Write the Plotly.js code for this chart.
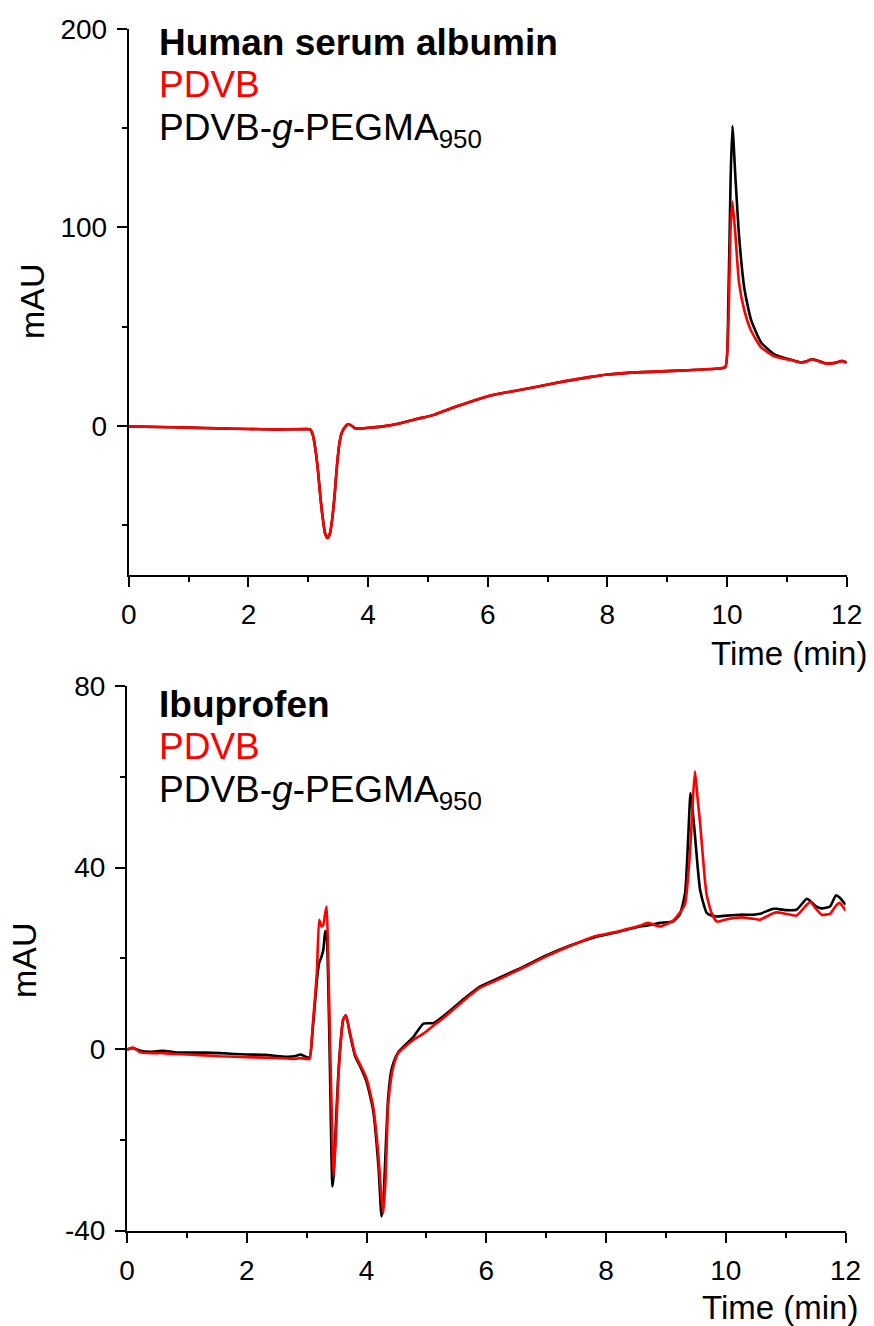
<!DOCTYPE html>
<html>
<head>
<meta charset="utf-8">
<script src="https://cdn.plot.ly/plotly-3.0.1.min.js"></script>
<style>
  html, body { margin: 0; padding: 0; background: #fff; }
  #chart { width: 874px; height: 1326px; }
</style>
</head>
<body>
<div id="chart"></div>
<script>
// Human serum albumin chromatogram (time in min, absorbance in mAU)
const hsaTime = [0, 0.5, 1, 1.5, 2, 2.5, 3, 3.03, 3.08, 3.12, 3.16, 3.2, 3.24, 3.28, 3.32, 3.36, 3.4, 3.44, 3.48, 3.52, 3.56, 3.61, 3.66, 3.71, 3.78, 3.9, 4.0, 4.25, 4.5, 4.81, 5.1, 5.37, 5.6, 5.8, 6.05, 6.4, 6.8, 7.3, 7.7, 8.0, 8.4, 8.8, 9.2, 9.5, 9.8, 9.97, 10.02, 10.06, 10.09, 10.14, 10.2, 10.29, 10.4, 10.57, 10.79, 11.08, 11.24, 11.33, 11.42, 11.52, 11.64, 11.8, 11.87, 11.92, 12.0];
const hsaPegma = [-0.3, -0.6, -0.9, -1.3, -1.6, -1.8, -1.7, -1.8, -5, -12, -22, -35, -46, -54, -56.5, -54.5, -47, -35, -20, -9, -3.5, -0.8, 0.8, 0.3, -1.2, -1.3, -1.0, -0.3, 1.0, 3.4, 5.5, 8.6, 11, 13, 15.3, 17.3, 19.5, 22.5, 24.5, 25.8, 26.8, 27.3, 27.8, 28.2, 28.7, 29.5, 60, 125, 151, 125, 96, 69, 53.5, 42, 36, 33.2, 32, 32.5, 33.5, 32.8, 31.5, 31.7, 32.3, 32.7, 31.8];
const hsaPdvb = [-0.3, -0.6, -0.9, -1.3, -1.6, -1.8, -1.7, -1.8, -5, -12, -22, -35, -46, -54, -56.5, -54.5, -47, -35, -20, -9, -3.5, -0.8, 0.8, 0.3, -1.2, -1.3, -1.0, -0.3, 1.0, 3.4, 5.5, 8.6, 11, 13, 15.3, 17.3, 19.5, 22.5, 24.5, 25.8, 26.8, 27.3, 27.8, 28.2, 28.7, 29.5, 50, 100, 113, 96, 72, 58, 48, 39.5, 35, 33, 31.8, 32.4, 33.4, 32.6, 31.4, 31.6, 32.2, 32.6, 31.7];

// Ibuprofen chromatogram
const ibuTime = [0, 0.1, 0.22, 0.4, 0.6, 0.8, 1.0, 1.3, 1.55, 1.8, 2.0, 2.3, 2.67, 2.8, 2.9, 3.0, 3.05, 3.1, 3.17, 3.21, 3.25, 3.28, 3.31, 3.335, 3.36, 3.39, 3.43, 3.45, 3.49, 3.53, 3.57, 3.61, 3.657, 3.72, 3.81, 3.9, 4.0, 4.11, 4.2, 4.25, 4.28, 4.32, 4.36, 4.41, 4.45, 4.53, 4.78, 4.95, 5.12, 5.28, 5.67, 5.9, 6.2, 6.6, 7.0, 7.4, 7.8, 8.2, 8.57, 8.7, 8.9, 9.12, 9.23, 9.32, 9.37, 9.41, 9.45, 9.485, 9.53, 9.57, 9.65, 9.68, 9.76, 9.85, 10.02, 10.24, 10.46, 10.57, 10.79, 10.85, 11.0, 11.18, 11.35, 11.41, 11.5, 11.6, 11.74, 11.84, 11.9, 12.0];
const ibuPegma = [-0.1, 0.2, -0.4, -0.6, -0.4, -0.7, -0.8, -0.8, -0.9, -1.1, -1.2, -1.3, -1.7, -1.6, -1.2, -1.8, -1.9, 4, 15, 19, 20.4, 22, 26, 25, 15, -5, -30.3, -28, -16, -5.3, 2, 6.5, 7.4, 3.5, -1.6, -4, -7.2, -13.5, -26, -36.9, -34, -22, -11, -5, -3, -0.7, 2.6, 5.6, 5.7, 7.2, 11.5, 13.8, 15.6, 18, 20.6, 22.8, 24.6, 25.8, 27.0, 27.2, 27.8, 28.1, 29.6, 34.4, 46.1, 56.4, 52, 47, 40, 35.1, 31, 30, 29.4, 29.2, 29.4, 29.6, 29.6, 29.8, 30.9, 30.9, 30.6, 30.7, 33.1, 32.6, 31.5, 31.0, 31.4, 33.9, 33.4, 31.8];
const ibuPdvb = [-0.1, 0.3, -0.7, -0.9, -0.9, -1.1, -1.2, -1.4, -1.6, -1.7, -1.8, -1.9, -2.1, -2.2, -2.0, -2.2, -2.2, 5, 16.7, 28.5, 27, 27.5, 30, 31.4, 20, 2, -20, -28.1, -19, -6, 1.5, 6.5, 7.4, 3.8, -1.2, -3.6, -6.5, -12.6, -23.7, -33, -36.2, -28, -12.6, -6.5, -3.8, -0.9, 2.0, 3.4, 5.2, 6.8, 11.2, 13.5, 15.3, 17.8, 20.4, 22.7, 24.8, 25.9, 27.2, 27.8, 27.0, 28.3, 30, 32, 38, 45, 55, 61.2, 55, 49.8, 37.3, 34, 30, 28.1, 28.6, 29, 28.7, 28.5, 29.9, 30.1, 29.8, 29.4, 31.8, 32.4, 31, 29.6, 29.8, 31.6, 32.2, 30.5];

// Tick values and their printed labels (plain hyphen for negatives)
const timeTicks = [0, 2, 4, 6, 8, 10, 12];
const timeTickText = ['0', '2', '4', '6', '8', '10', '12'];
const hsaTicks = [0, 100, 200];
const hsaTickText = ['0', '100', '200'];
const ibuTicks = [-40, 0, 40, 80];
const ibuTickText = ['-40', '0', '40', '80'];

const panelTitles = ['Human serum albumin', 'Ibuprofen'];
const seriesNames = ['PDVB', 'PDVB-<i>g</i>-PEGMA<sub>950</sub>'];
const xTitle = 'Time (min)';
const yTitle = 'mAU';

const W = 874, H = 1326;
const FONT = 'Liberation Sans, Arial, Helvetica, sans-serif';
const px = v => v / W;
const py = v => 1 - v / H;

function line(x, y, color, xa, ya, name) {
  return {
    x: x, y: y, type: 'scatter', mode: 'lines', name: name,
    xaxis: xa, yaxis: ya, hoverinfo: 'skip',
    line: { color: color, width: 2.6, shape: 'spline', smoothing: 0.5 }
  };
}

const traces = [
  line(hsaTime, hsaPegma, '#000000', 'x', 'y', 'PDVB-g-PEGMA950'),
  line(hsaTime, hsaPdvb, '#ff0000', 'x', 'y', 'PDVB'),
  line(ibuTime, ibuPegma, '#000000', 'x2', 'y2', 'PDVB-g-PEGMA950'),
  line(ibuTime, ibuPdvb, '#ff0000', 'x2', 'y2', 'PDVB')
];

function xAxis(domain, anchor) {
  return {
    domain: domain, anchor: anchor, range: [0, 12],
    tickmode: 'array', tickvals: timeTicks, ticktext: timeTickText,
    ticks: 'outside', ticklen: 10, tickwidth: 2, tickcolor: '#000',
    showline: true, linecolor: '#000', linewidth: 2,
    showgrid: false, zeroline: false, fixedrange: true,
    tickfont: { family: FONT, size: 28, color: '#000' },
    ticklabelstandoff: 4,
    minor: { tick0: 0, dtick: 1, ticks: 'outside', ticklen: 5, tickwidth: 2, tickcolor: '#000', showgrid: false }
  };
}
function yAxis(domain, anchor, range, vals, text, minorDtick) {
  return {
    domain: domain, anchor: anchor, range: range,
    tickmode: 'array', tickvals: vals, ticktext: text,
    ticks: 'outside', ticklen: 10, tickwidth: 2, tickcolor: '#000',
    showline: true, linecolor: '#000', linewidth: 2,
    showgrid: false, zeroline: false, fixedrange: true,
    tickfont: { family: FONT, size: 28, color: '#000' },
    ticklabelstandoff: 4,
    minor: { tick0: 0, dtick: minorDtick, ticks: 'outside', ticklen: 5, tickwidth: 2, tickcolor: '#000', showgrid: false }
  };
}

function label(text, x, y, opts) {
  return Object.assign({
    text: text, xref: 'paper', yref: 'paper', x: x, y: y,
    showarrow: false, xanchor: 'left', yanchor: 'middle',
    font: { family: FONT, size: 37, color: '#000' }
  }, opts || {});
}

const annotations = [
  label('<b>' + panelTitles[0] + '</b>', px(157), py(42)),
  label(seriesNames[0], px(157), py(84), { font: { family: FONT, size: 37, color: '#ff0000' } }),
  label(seriesNames[1], px(157), py(130)),
  label('<b>' + panelTitles[1] + '</b>', px(157), py(704)),
  label(seriesNames[0], px(157), py(746), { font: { family: FONT, size: 37, color: '#ff0000' } }),
  label(seriesNames[1], px(157), py(792)),
  label(xTitle, px(869), py(653), { xanchor: 'right', font: { family: FONT, size: 33, color: '#000' } }),
  label(xTitle, px(860), py(1307), { xanchor: 'right', font: { family: FONT, size: 33, color: '#000' } }),
  label(yTitle, px(32), py(301), { xanchor: 'center', textangle: -90, font: { family: FONT, size: 34, color: '#000' } }),
  label(yTitle, px(24), py(960), { xanchor: 'center', textangle: -90, font: { family: FONT, size: 34, color: '#000' } })
];

const layout = {
  width: W, height: H,
  margin: { l: 0, r: 0, t: 0, b: 0 },
  paper_bgcolor: '#fff', plot_bgcolor: '#fff',
  showlegend: false,
  font: { family: FONT, color: '#000', size: 28 },
  xaxis: xAxis([px(128.8), px(846.7)], 'y'),
  yaxis: yAxis([py(574.7), py(28.7)], 'x', [-75, 200], hsaTicks, hsaTickText, 50),
  xaxis2: xAxis([px(127), px(845.6)], 'y2'),
  yaxis2: yAxis([py(1230.5), py(686)], 'x2', [-40, 80], ibuTicks, ibuTickText, 20),
  annotations: annotations
};

Plotly.newPlot('chart', traces, layout, { staticPlot: true, displayModeBar: false });
</script>
</body>
</html>
